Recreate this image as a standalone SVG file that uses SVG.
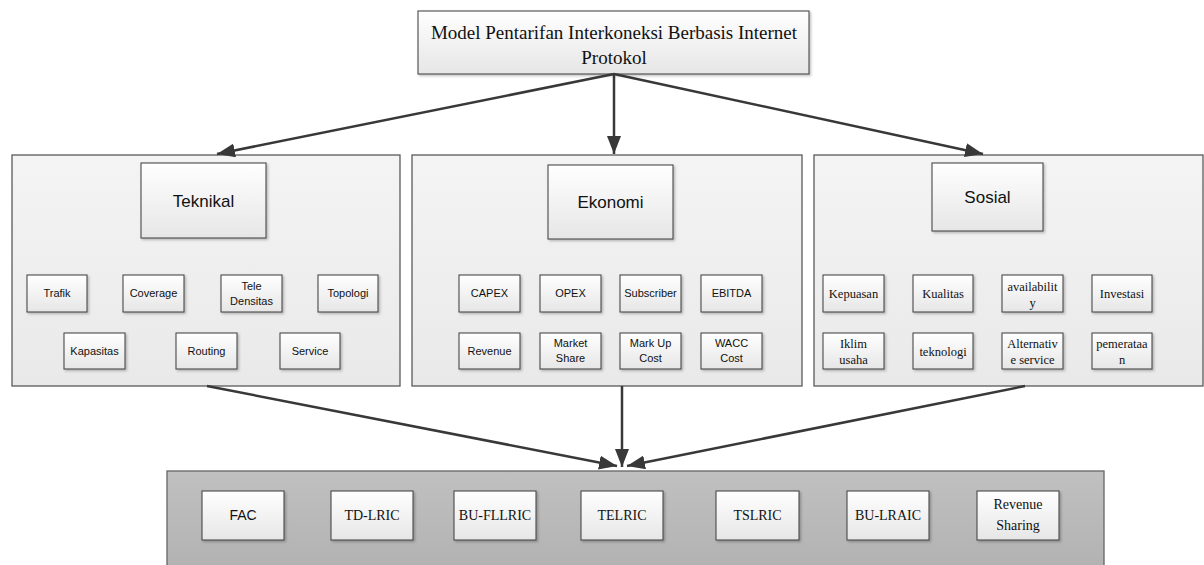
<svg xmlns="http://www.w3.org/2000/svg" width="1204" height="565" viewBox="0 0 1204 565">
<style>
.panel{fill:url(#gPanel);stroke:#5a5a5a;stroke-width:1.3}
.bpanel{fill:url(#gBottom);stroke:#666;stroke-width:1.3}
.box{fill:url(#gBox);stroke:#4a4a4a;stroke-width:1.1;filter:url(#sh)}
.sans{font-family:"Liberation Sans",Arial,sans-serif;fill:#111;text-anchor:middle}
.serif{font-family:"Liberation Serif","Times New Roman",serif;fill:#111;text-anchor:middle}
.big{font-size:17px}
.title{font-size:19px}
.sm{font-size:11px}
.ssm{font-size:12.5px}
.bot{font-size:14px}
.conn{stroke:#383838;stroke-width:2.5;fill:none;marker-end:url(#ah)}
</style>
<defs>
<linearGradient id="gPanel" x1="0" y1="0" x2="0" y2="1"><stop offset="0" stop-color="#f4f4f4"/><stop offset="1" stop-color="#e9e9e9"/></linearGradient>
<linearGradient id="gBottom" x1="0" y1="0" x2="0" y2="1"><stop offset="0" stop-color="#c0c0c0"/><stop offset="1" stop-color="#b2b2b2"/></linearGradient>
<linearGradient id="gBox" x1="0" y1="0" x2="0" y2="1"><stop offset="0" stop-color="#ffffff"/><stop offset="1" stop-color="#e6e6e6"/></linearGradient>
<filter id="sh" x="-10%" y="-10%" width="130%" height="130%"><feDropShadow dx="1.5" dy="1.5" stdDeviation="1" flood-color="#000" flood-opacity="0.25"/></filter>
<marker id="ah" markerUnits="userSpaceOnUse" markerWidth="20" markerHeight="14" refX="18" refY="7" orient="auto"><path d="M0,0 L18,7 L0,14 Z" fill="#383838"/></marker>
</defs>

<g id="top">
<rect class="box" x="418" y="11" width="391" height="63"/>
<text class="serif title" x="614" y="39">Model Pentarifan Interkoneksi Berbasis Internet</text>
<text class="serif title" x="614" y="64">Protokol</text>
</g>

<g id="panel-teknikal">
<rect class="panel" x="12" y="155" width="388" height="231"/>
<g id="teknikal"><rect class="box" x="141" y="163" width="125" height="75"/><text class="sans big" x="203.5" y="207">Teknikal</text></g>
<g id="trafik"><rect class="box" x="27" y="275" width="60" height="37"/><text class="sans sm" x="57" y="297">Trafik</text></g>
<g id="coverage"><rect class="box" x="123" y="275" width="61" height="37"/><text class="sans sm" x="153.5" y="297">Coverage</text></g>
<g id="teledensitas"><rect class="box" x="221" y="275" width="61" height="37"/><text class="sans sm" x="251.5" y="290">Tele</text><text class="sans sm" x="251.5" y="305">Densitas</text></g>
<g id="topologi"><rect class="box" x="318" y="275" width="60" height="37"/><text class="sans sm" x="348" y="297">Topologi</text></g>
<g id="kapasitas"><rect class="box" x="64" y="333" width="61" height="36"/><text class="sans sm" x="94.5" y="355">Kapasitas</text></g>
<g id="routing"><rect class="box" x="176" y="333" width="61" height="36"/><text class="sans sm" x="206.5" y="355">Routing</text></g>
<g id="service"><rect class="box" x="280" y="333" width="60" height="36"/><text class="sans sm" x="310" y="355">Service</text></g>
</g>

<g id="panel-ekonomi">
<rect class="panel" x="412" y="155" width="390" height="231"/>
<g id="ekonomi"><rect class="box" x="548" y="165" width="125" height="74"/><text class="sans big" x="610.5" y="208">Ekonomi</text></g>
<g id="capex"><rect class="box" x="459" y="275" width="61" height="37"/><text class="sans sm" x="489.5" y="297">CAPEX</text></g>
<g id="opex"><rect class="box" x="540" y="275" width="61" height="37"/><text class="sans sm" x="570.5" y="297">OPEX</text></g>
<g id="subscriber"><rect class="box" x="620" y="275" width="61" height="37"/><text class="sans sm" x="650.5" y="297">Subscriber</text></g>
<g id="ebitda"><rect class="box" x="701" y="275" width="61" height="37"/><text class="sans sm" x="731.5" y="297">EBITDA</text></g>
<g id="revenue"><rect class="box" x="459" y="333" width="61" height="36"/><text class="sans sm" x="489.5" y="355">Revenue</text></g>
<g id="marketshare"><rect class="box" x="540" y="333" width="61" height="36"/><text class="sans sm" x="570.5" y="347">Market</text><text class="sans sm" x="570.5" y="362">Share</text></g>
<g id="markupcost"><rect class="box" x="620" y="333" width="61" height="36"/><text class="sans sm" x="650.5" y="347">Mark Up</text><text class="sans sm" x="650.5" y="362">Cost</text></g>
<g id="wacccost"><rect class="box" x="701" y="333" width="61" height="36"/><text class="sans sm" x="731.5" y="347">WACC</text><text class="sans sm" x="731.5" y="362">Cost</text></g>
</g>

<g id="panel-sosial">
<rect class="panel" x="814" y="155" width="389" height="231"/>
<g id="sosial"><rect class="box" x="932" y="163" width="111" height="68"/><text class="sans big" x="987.5" y="203">Sosial</text></g>
<g id="kepuasan"><rect class="box" x="823" y="275" width="61" height="37"/><text class="serif ssm" x="853.5" y="298">Kepuasan</text></g>
<g id="kualitas"><rect class="box" x="913" y="275" width="60" height="37"/><text class="serif ssm" x="943" y="298">Kualitas</text></g>
<g id="availability"><rect class="box" x="1002" y="275" width="61" height="37"/><text class="serif ssm" x="1032.5" y="291">availabilit</text><text class="serif ssm" x="1032.5" y="307">y</text></g>
<g id="investasi"><rect class="box" x="1092" y="275" width="60" height="37"/><text class="serif ssm" x="1122" y="298">Investasi</text></g>
<g id="iklimusaha"><rect class="box" x="823" y="333" width="61" height="36"/><text class="serif ssm" x="853.5" y="348">Iklim</text><text class="serif ssm" x="853.5" y="364">usaha</text></g>
<g id="teknologi"><rect class="box" x="913" y="333" width="60" height="36"/><text class="serif ssm" x="943" y="356">teknologi</text></g>
<g id="alternative"><rect class="box" x="1002" y="333" width="61" height="36"/><text class="serif ssm" x="1032.5" y="348">Alternativ</text><text class="serif ssm" x="1032.5" y="364">e service</text></g>
<g id="pemerataan"><rect class="box" x="1092" y="333" width="60" height="36"/><text class="serif ssm" x="1122" y="348">pemerataa</text><text class="serif ssm" x="1122" y="364">n</text></g>
</g>

<g id="panel-bottom">
<rect class="bpanel" x="167" y="471" width="937" height="100"/>
<g id="fac"><rect class="box" x="202" y="491" width="82" height="49"/><text class="sans" style="font-size:14px" x="243" y="520">FAC</text></g>
<g id="tdlric"><rect class="box" x="331" y="491" width="82" height="49"/><text class="serif bot" x="372" y="520">TD-LRIC</text></g>
<g id="bufllric"><rect class="box" x="454" y="491" width="82" height="49"/><text class="serif bot" x="495" y="520">BU-FLLRIC</text></g>
<g id="telric"><rect class="box" x="581" y="491" width="82" height="49"/><text class="serif bot" x="622" y="520">TELRIC</text></g>
<g id="tslric"><rect class="box" x="716" y="491" width="83" height="49"/><text class="serif bot" x="757.5" y="520">TSLRIC</text></g>
<g id="bulraic"><rect class="box" x="847" y="491" width="82" height="49"/><text class="serif bot" x="888" y="520">BU-LRAIC</text></g>
<g id="revenuesharing"><rect class="box" x="977" y="491" width="82" height="49"/><text class="serif bot" x="1018" y="509">Revenue</text><text class="serif bot" x="1018" y="530">Sharing</text></g>
</g>

<g id="connectors">
<line class="conn" x1="614" y1="74" x2="217" y2="154"/>
<line class="conn" x1="614" y1="74" x2="614" y2="154"/>
<line class="conn" x1="614" y1="74" x2="983" y2="154"/>
<line class="conn" x1="207" y1="386" x2="617" y2="466"/>
<line class="conn" x1="622" y1="386" x2="622" y2="467"/>
<line class="conn" x1="1025" y1="386" x2="627" y2="466"/>
</g>
</svg>
